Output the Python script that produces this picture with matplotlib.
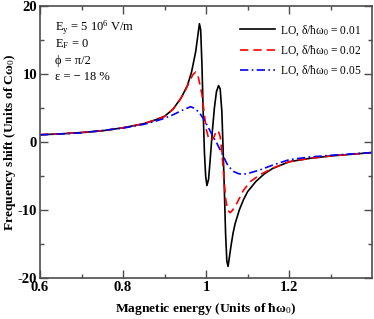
import numpy as np
import matplotlib
matplotlib.use('Agg')
import matplotlib.pyplot as plt
from matplotlib.ticker import MultipleLocator, FixedLocator

plt.rcParams['font.family'] = ['Liberation Serif', 'DejaVu Serif']
plt.rcParams['mathtext.fontset'] = 'custom'
plt.rcParams['mathtext.rm'] = 'Liberation Serif'
plt.rcParams['mathtext.it'] = 'Liberation Serif:italic'
plt.rcParams['mathtext.bf'] = 'Liberation Serif:bold'
plt.rcParams['axes.unicode_minus'] = False

# curves (x in units of hbar*omega0, y in units of C*omega0)
x_01 = [0.6, 0.65, 0.7, 0.75, 0.8, 0.85, 0.88, 0.9, 0.92, 0.94, 0.955, 0.965, 0.975,
        0.98, 0.984, 0.987, 0.99, 0.993, 0.996, 0.999, 1.002, 1.006, 1.01, 1.015,
        1.02, 1.025, 1.03, 1.034, 1.038, 1.041, 1.044, 1.047, 1.05, 1.053, 1.056,
        1.06, 1.065, 1.07, 1.08, 1.09, 1.1, 1.12, 1.14, 1.16, 1.2, 1.25, 1.3, 1.35, 1.4]
y_01 = [1.08, 1.2, 1.4, 1.65, 2.1, 2.7, 3.3, 3.8, 4.8, 6.5, 8.3, 10.3, 13.3,
        15.6, 17.4, 16.5, 11.5, 4.5, -1.5, -5.0, -6.4, -5.5, -2.5, 1.5,
        5.0, 7.4, 8.3, 7.8, 4.5, -1.0, -7.0, -13.5, -17.5, -18.3, -17.0,
        -15.3, -13.4, -12.0, -10.0, -8.5, -7.3, -5.8, -4.7, -3.9, -2.9, -2.4, -2.05, -1.8, -1.55]

x_02 = [0.6, 0.65, 0.7, 0.75, 0.8, 0.85, 0.88, 0.9, 0.92, 0.935, 0.95, 0.96, 0.968,
        0.975, 0.98, 0.985, 0.99, 0.995, 1.0, 1.005, 1.012, 1.018, 1.024, 1.029,
        1.034, 1.038, 1.042, 1.047, 1.052, 1.058, 1.064, 1.075, 1.09, 1.107, 1.13,
        1.16, 1.2, 1.25, 1.3, 1.35, 1.4]
y_02 = [1.08, 1.2, 1.4, 1.65, 2.1, 2.7, 3.3, 3.75, 4.8, 6.0, 7.6, 8.9, 9.9,
        10.3, 9.9, 8.5, 7.0, 4.5, 2.0, 0.8, 0.2, 0.6, 1.5, 1.7,
        0.8, -1.5, -4.5, -8.3, -10.0, -10.4, -10.0, -8.9, -7.1, -5.8, -4.8,
        -3.85, -2.9, -2.4, -2.05, -1.8, -1.55]

x_05 = [0.6, 0.7, 0.8, 0.85, 0.88, 0.9, 0.92, 0.94, 0.955, 0.963, 0.972, 0.983,
        0.995, 1.005, 1.015, 1.027, 1.04, 1.052, 1.065, 1.078, 1.09, 1.105, 1.13,
        1.16, 1.2, 1.25, 1.3, 1.35, 1.4]
y_05 = [1.05, 1.35, 2.05, 2.6, 3.1, 3.5, 4.0, 4.6, 5.0, 5.2, 4.95, 4.4,
        3.3, 2.2, 1.0, -0.3, -1.9, -3.4, -4.3, -4.65, -4.75, -4.55, -4.1,
        -3.4, -2.6, -2.2, -1.95, -1.75, -1.55]

fig = plt.figure(figsize=(3.74, 3.19), dpi=100)
ax = fig.add_axes([0.107, 0.1285, 0.888, 0.8525])

ax.plot(x_01, y_01, color='black', lw=1.2, label='LO, δ/ħω$_0$ = 0.01')
ax.plot(x_02, y_02, color='red', lw=1.2, ls=(0, (5, 3)), label='LO, δ/ħω$_0$ = 0.02')
ax.plot(x_05, y_05, color='blue', lw=1.2, ls=(0, (5, 2, 1, 2)), label='LO, δ/ħω$_0$ = 0.05')

ax.set_xlim(0.6, 1.4)
ax.set_ylim(-20, 20)
ax.xaxis.set_major_locator(FixedLocator([0.6, 0.8, 1.0, 1.2]))
ax.xaxis.set_minor_locator(FixedLocator([0.7, 0.9, 1.1, 1.3]))
ax.yaxis.set_major_locator(MultipleLocator(10))
ax.yaxis.set_minor_locator(MultipleLocator(5))
ax.set_xticklabels(['0.6', '0.8', '1', '1.2'])
ax.tick_params(which='both', direction='in', top=True, right=True, color='0.3')
ax.tick_params(which='major', length=5.5, width=1, labelsize=10.5, pad=2)
ax.tick_params(which='minor', length=3, width=1)
for lab in ax.get_xticklabels() + ax.get_yticklabels():
    lab.set_fontweight('bold')
for s in ax.spines.values():
    s.set_color('0.3')
    s.set_linewidth(1.2)

ax.set_xlabel('Magnetic energy (Units of ħω$_0$)', fontsize=9.7, fontweight='bold', labelpad=5)
ax.set_ylabel('Frequency shift (Units of Cω$_0$)', fontsize=9.7, fontweight='bold', labelpad=0)

info = ['E$_\\mathrm{y}$ = 5 10$^6$ V/m', 'E$_\\mathrm{F}$ = 0', 'ϕ = π/2', 'ε = − 18 %']
for i, t in enumerate(info):
    fig.text(55 / 374, 1 - (28 + 16.3 * i) / 319, t, fontsize=9, va='center', ha='left')

ax.legend(loc='upper right', bbox_to_anchor=(1.0, 0.975), frameon=False, fontsize=8.3,
          handlelength=3.0, handletextpad=0.5, labelspacing=0.5, borderaxespad=0.5)

fig.savefig('out.png', dpi=100)
